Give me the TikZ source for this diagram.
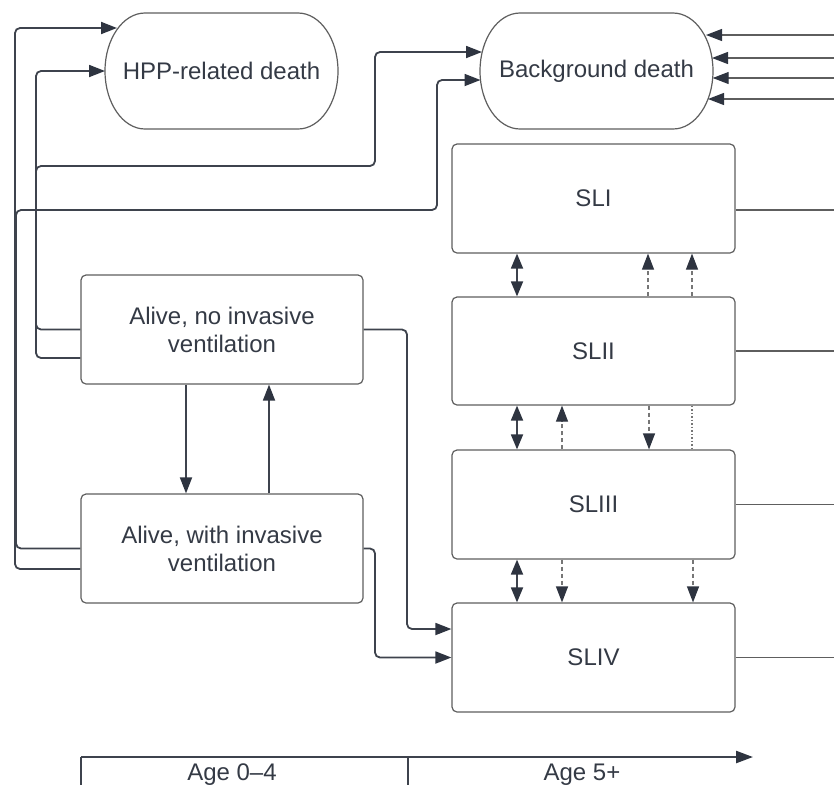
\documentclass[tikz,border=0pt]{standalone}
\usepackage{fontspec}
\setmainfont{Liberation Sans}
\usetikzlibrary{arrows.meta,calc}
\definecolor{txt}{HTML}{343A45}
\definecolor{edge}{HTML}{5E5E5E}
\definecolor{ink}{HTML}{3E434D}
\definecolor{tipc}{HTML}{2E3440}
\tikzset{
  box/.style={draw=edge, line width=1.2pt, rounded corners=5pt, minimum width=283pt,
    minimum height=109pt, inner sep=0pt, text=txt, font=\fontsize{24}{28}\selectfont, align=center},
  lbl/.style={text=txt, font=\fontsize{24}{28}\selectfont, inner sep=0pt, align=center},
  conn/.style={draw=ink, line width=1.8pt, rounded corners=5pt},
  thinln/.style={draw=edge, line width=1.2pt},
  dsh/.style={draw=edge!85, line width=1.2pt, dash pattern=on 4pt off 3pt},
  dtt/.style={draw=edge!85, line width=1.2pt, dash pattern=on 1.5pt off 2pt},
  tip/.style={-{Triangle[length=16pt,width=12pt,color=tipc]}},
  twotip/.style={{Triangle[length=15pt,width=12pt,color=tipc]}-{Triangle[length=15pt,width=12pt,color=tipc]}},
}
\newcommand{\stadiumpath}[4]{%
  \draw[draw=edge,line width=1.2pt] (#1+40,#2) -- (#3-40,#2)
    arc[start angle=-90,end angle=90,x radius=40,y radius=58] -- (#1+40,#4)
    arc[start angle=90,end angle=270,x radius=40,y radius=58] -- cycle;}
\begin{document}
\begin{tikzpicture}[x=1pt,y=-1pt]
\useasboundingbox (0,0) rectangle (834,785);
% terminal states
\stadiumpath{105}{13}{338}{129}
\stadiumpath{480}{13}{713}{129}
\node[lbl] (hpp) at (221.5,71) {HPP-related death};
\node[lbl] (bg) at (596.5,71) {Background death};
% SL boxes
\node[box] (sl1) at (593.5,198.5) {SLI};
\node[box, minimum height=108pt] (sl2) at (593.5,351) {SLII};
\node[box] (sl3) at (593.5,504.5) {SLIII};
\node[box] (sl4) at (593.5,657.5) {SLIV};
% Alive boxes
\node[box, minimum width=282pt] (an) at (222,329.5) {Alive, no invasive\\ventilation};
\node[box, minimum width=282pt] (aw) at (222,548.5) {Alive, with invasive\\ventilation};
% coordinates on outlines / edges
\coordinate (hA) at (117,28);
\coordinate (hB) at (105,71);
\coordinate (bA) at (482,52);
\coordinate (bB) at (480.5,80);
\coordinate (b1) at (706,35);
\coordinate (b2) at (712,58);
\coordinate (b3) at (712.7,78);
\coordinate (b4) at (708,99);
\coordinate (r1) at (834,35);
\coordinate (r2) at (834,58);
\coordinate (r3) at (834,78);
\coordinate (r4) at (834,99);
\coordinate (e1) at (834,210);
\coordinate (e2) at (834,351);
\coordinate (e3) at (834,504.5);
\coordinate (e4) at (834,657.5);
% left routing connectors
\draw[conn,tip] ([yshift=-20.5pt]aw.west) -| (15,28) -- (hA);
\draw[conn,tip] (aw.west) -| (16,210) -| (437,80) -- (bB);
\draw[conn,tip] ([yshift=-28.5pt]an.west) -| (36,71) -- (hB);
\draw[conn,tip] (an.west) -| (36,166) -| (375,52) -- (bA);
% to SLIV
\draw[conn,tip] (an.east) -| (407,629) -- ([yshift=28.5pt]sl4.west);
\draw[conn,tip] (aw.east) -| (375,657.5) -- (sl4.west);
% between Alive boxes
\draw[conn,tip] ([xshift=-36pt]an.south) -- ([xshift=-36pt]aw.north);
\draw[conn,tip] ([xshift=47pt]aw.north) -- ([xshift=47pt]an.south);
% right side lines to background death
\draw[thinln,tip] (r1) -- (b1);
\draw[thinln,tip] (r2) -- (b2);
\draw[thinln,tip] (r3) -- (b3);
\draw[thinln,tip] (r4) -- (b4);
\draw[thinln] ([yshift=-11.5pt]sl1.east) -- (e1);
\draw[thinln] (sl2.east) -- (e2);
\draw[thinln] (sl3.east) -- (e3);
\draw[thinln] (sl4.east) -- (e4);
% SLI - SLII
\draw[conn,twotip] ([xshift=-76.5pt]sl1.south) -- ([xshift=-76.5pt]sl2.north);
\draw[dsh,tip] ([xshift=54.5pt]sl2.north) -- ([xshift=54.5pt]sl1.south);
\draw[dsh,tip] ([xshift=98.5pt]sl2.north) -- ([xshift=98.5pt]sl1.south);
% SLII - SLIII
\draw[conn,twotip] ([xshift=-76.5pt]sl2.south) -- ([xshift=-76.5pt]sl3.north);
\draw[dsh,tip] ([xshift=-31.5pt]sl3.north) -- ([xshift=-31.5pt]sl2.south);
\draw[dsh,tip] ([xshift=55.5pt]sl2.south) -- ([xshift=55.5pt]sl3.north);
\draw[dtt] ([xshift=98.5pt]sl2.south) -- ([xshift=98.5pt]sl3.north);
% SLIII - SLIV
\draw[conn,twotip] ([xshift=-76.5pt]sl3.south) -- ([xshift=-76.5pt]sl4.north);
\draw[dsh,tip] ([xshift=-31.5pt]sl3.south) -- ([xshift=-31.5pt]sl4.north);
\draw[dsh,tip] ([xshift=99.5pt]sl3.south) -- ([xshift=99.5pt]sl4.north);
% age axis
\coordinate (ax0) at (81,757);
\coordinate (axm) at (408,757);
\coordinate (ax1) at (753,757);
\coordinate (t0) at (81,785);
\coordinate (tm) at (408,785);
\draw[draw=ink,line width=2.4pt,-{Triangle[length=17pt,width=12pt,color=tipc]}] (ax0) -- (ax1);
\draw[draw=ink,line width=1.5pt] (ax0) -- (t0);
\draw[draw=ink,line width=1.5pt] (axm) -- (tm);
\node[lbl, anchor=base] (age1) at (232,780) {Age 0–4};
\node[lbl, anchor=base] (age2) at (582,780) {Age 5+};
\end{tikzpicture}
\end{document}
